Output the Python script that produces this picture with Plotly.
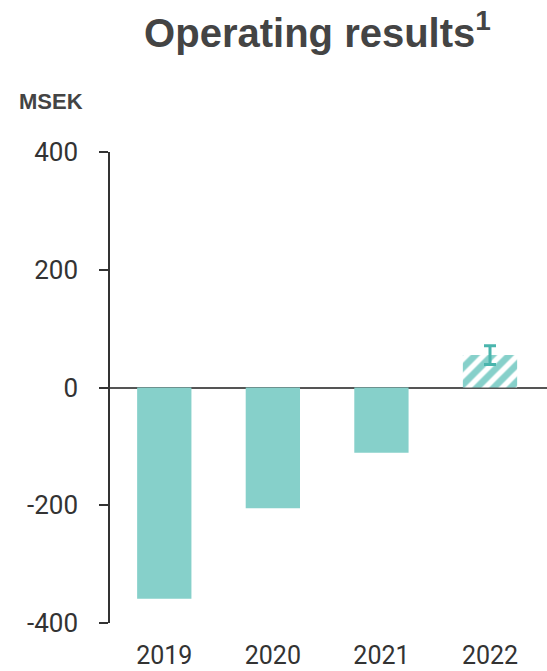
import plotly.graph_objects as go

years = ["2019", "2020", "2021"]
values = [-359, -205, -111]
fc_year = ["2022"]
fc_value = [55]
fc_err_plus = [16]
fc_err_minus = [16]
y_ticks = [-400, -200, 0, 200, 400]
teal = "#86d0ca"

fig = go.Figure()
fig.add_trace(go.Bar(x=years, y=values, marker=dict(color=teal, line=dict(width=0)), width=0.5))
fig.add_trace(go.Bar(
    x=fc_year, y=fc_value, width=0.5,
    marker=dict(color=teal, line=dict(width=0),
                pattern=dict(shape="/", fgcolor="white", bgcolor=teal, size=12, solidity=0.45,
                             fillmode="overlay", fgopacity=1)),
    error_y=dict(type="data", symmetric=False, array=fc_err_plus, arrayminus=fc_err_minus,
                 color="#4ab5ad", thickness=3, width=6),
))

L, R, T, B = 110, 0, 152, 48
PW, PH = 547 - L - R, 671 - T - B

fig.update_layout(
    width=547, height=671, showlegend=False, barmode="overlay",
    plot_bgcolor="white", paper_bgcolor="white",
    margin=dict(l=L, r=R, t=T, b=B, autoexpand=False),
    title=dict(text="<b>Operating results<sup>1</sup></b>", x=317.5 / 547, xanchor="center",
               y=1 - 33 / 671, yanchor="middle",
               font=dict(family="Liberation Sans, Arial", size=40, color="#444")),
    font=dict(family="Roboto", color="#333"),
)
fig.add_annotation(text="<b>MSEK</b>", xref="paper", yref="paper", x=(17 - L) / PW, y=(671 - B - 101) / PH,
                   xanchor="left", yanchor="middle", showarrow=False,
                   font=dict(family="Liberation Sans, Arial", size=22, color="#444"))

fig.update_xaxes(
    categoryorder="array", categoryarray=years + fc_year, automargin=False,
    range=[-0.5, 3.525], showgrid=False, showline=False, zeroline=False,
    ticks="outside", ticklen=10, tickcolor="rgba(0,0,0,0)",
    tickfont=dict(family="Roboto", size=25, color="#333"),
)
fig.update_yaxes(
    range=[-400, 400], tickvals=y_ticks, ticktext=[str(v) for v in y_ticks], automargin=False,
    showgrid=False, showline=True, linecolor="#333", linewidth=1.5,
    ticks="outside", ticklen=9, tickcolor="#333", tickwidth=1.5, ticklabelstandoff=16,
    zeroline=True, zerolinecolor="#555", zerolinewidth=2,
    tickfont=dict(family="Roboto", size=26, color="#333"),
)

fig.write_html("out.html")
